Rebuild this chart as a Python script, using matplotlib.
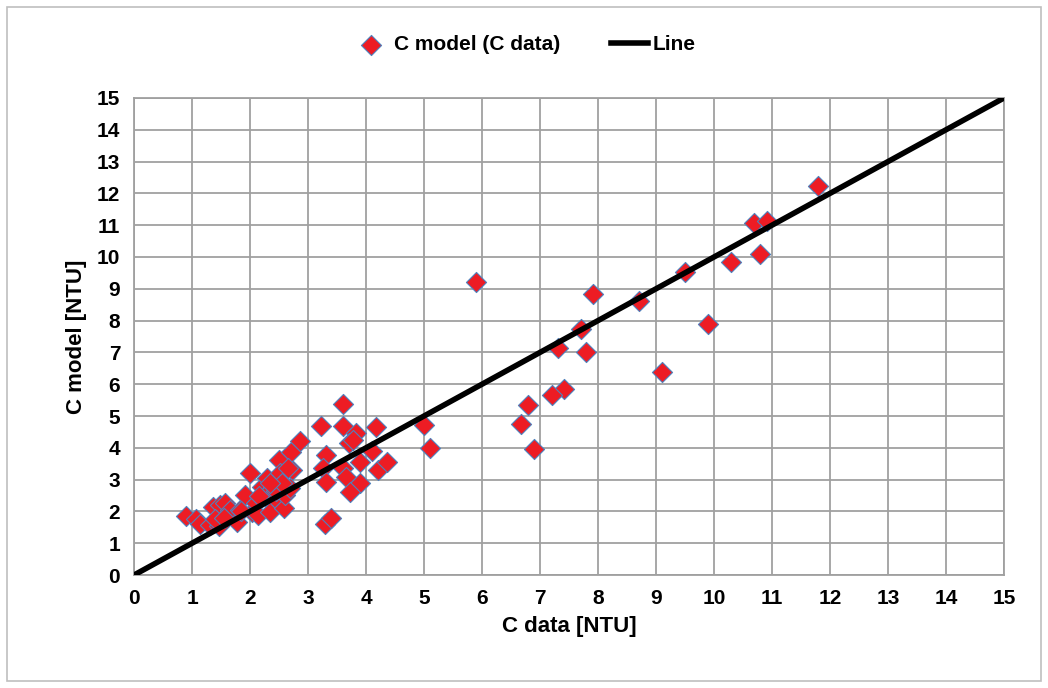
import numpy as np
import matplotlib
matplotlib.use("Agg")
import matplotlib.pyplot as plt
from matplotlib.patches import Rectangle

plt.rcParams['font.family'] = ['Liberation Sans', 'DejaVu Sans']

# C data / C model [NTU]
c_data = [0.9, 1.07, 1.14, 1.31, 1.36, 1.48, 1.57, 1.47, 1.6, 1.66, 1.77, 1.83,
          1.91, 2.0, 2.03, 2.1, 2.14, 2.2, 2.29, 2.34, 2.4, 2.46, 2.5, 2.52,
          2.58, 2.6, 2.72, 2.71, 2.69, 2.87, 1.4, 1.55, 2.25, 2.45, 2.55, 2.65,
          2.35, 2.15, 1.85,
          3.61, 3.22, 3.6, 3.83, 3.71, 4.17, 3.31, 3.26, 3.31, 3.61, 3.66, 3.9,
          4.1, 4.2, 4.37, 3.9, 3.72, 5.0, 5.1, 3.29, 3.4, 3.77,
          5.9, 7.91, 8.7, 9.5, 10.29, 10.8, 9.9, 7.7, 7.31, 7.8, 9.1, 7.41,
          7.2, 6.8, 6.67, 6.9, 11.8, 10.69, 10.92]
c_model = [1.85, 1.76, 1.6, 1.57, 2.15, 2.2, 2.26, 1.55, 1.89, 2.04, 1.68, 2.04,
           2.52, 3.2, 1.99, 2.25, 1.89, 2.78, 3.04, 1.99, 2.78, 2.36, 3.62, 3.2,
           2.1, 2.52, 3.3, 3.88, 2.73, 4.21, 1.75, 1.8, 2.5, 2.65, 2.9, 3.35,
           2.9, 2.5, 2.0,
           5.38, 4.69, 4.69, 4.46, 4.16, 4.64, 3.77, 3.35, 2.94, 3.35, 3.09, 3.56,
           3.91, 3.3, 3.56, 2.88, 2.62, 4.72, 3.98, 1.62, 1.78, 4.25,
           9.22, 8.84, 8.63, 9.54, 9.83, 10.09, 7.89, 7.73, 7.13, 7.0, 6.39, 5.85,
           5.66, 5.35, 4.75, 3.96, 12.24, 11.06, 11.14]
line_x = [0, 15]
line_y = [0, 15]
ticks = list(range(16))

fig = plt.figure(figsize=(10.48, 6.88), dpi=100)
ax = fig.add_axes([0.1279, 0.1642, 0.8301, 0.6934])

ax.scatter(c_data, c_model, marker='D', s=105, color='#ED1C24',
           edgecolors='#4F81BD', linewidths=0.8, zorder=3, label='C model (C data)')
ax.plot(line_x, line_y, color='black', lw=4, zorder=4, label='Line')

ax.set_xlim(0, 15)
ax.set_ylim(0, 15)
ax.set_xticks(ticks)
ax.set_yticks(ticks)
ax.grid(True, color='#A0A0A0', lw=1.3)
ax.set_axisbelow(True)
for s in ax.spines.values():
    s.set_color('#A0A0A0')
    s.set_linewidth(1.3)
ax.tick_params(length=0, labelsize=15, pad=10)
for lab in ax.get_xticklabels() + ax.get_yticklabels():
    lab.set_fontweight('bold')

ax.set_xlabel('C data [NTU]', fontsize=16, fontweight='bold', labelpad=6)
ax.set_ylabel('C model [NTU]', fontsize=16, fontweight='bold', labelpad=7)

leg = fig.legend(loc='center', bbox_to_anchor=(0.5, 0.935), ncol=2, frameon=False,
                 prop={'weight': 'bold', 'size': 15}, handlelength=1.8,
                 handletextpad=0.2, columnspacing=2.4)

fig.patches.append(Rectangle((0.007, 0.01), 0.986, 0.98, transform=fig.transFigure,
                             fill=False, edgecolor='#BFBFBF', lw=1.2))

fig.savefig('out.png', dpi=100)
